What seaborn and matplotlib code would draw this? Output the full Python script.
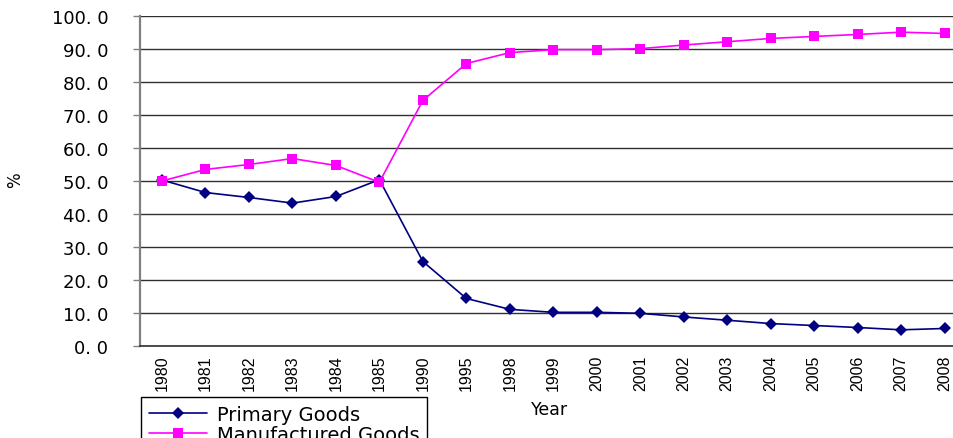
import numpy as np
import pandas as pd
import matplotlib
matplotlib.use("Agg")
import matplotlib.pyplot as plt
import seaborn as sns
from matplotlib.ticker import FixedLocator, FuncFormatter

years = ["1980", "1981", "1982", "1983", "1984", "1985", "1990", "1995", "1998",
         "1999", "2000", "2001", "2002", "2003", "2004", "2005", "2006", "2007", "2008"]
primary = [50.3, 46.5, 45.0, 43.3, 45.3, 50.4, 25.6, 14.4, 11.1,
           10.2, 10.2, 9.9, 8.8, 7.8, 6.8, 6.2, 5.6, 4.9, 5.3]
manufactured = [50.0, 53.5, 55.0, 56.8, 54.7, 49.6, 74.4, 85.6, 88.9,
                89.8, 89.8, 90.1, 91.2, 92.2, 93.2, 93.8, 94.4, 95.1, 94.7]
series_names = ["Primary Goods", "Manufactured Goods"]

sns.set_style("white")
plt.rcParams["font.family"] = ["DejaVu Sans"]
plt.rcParams["text.color"] = "black"
plt.rcParams["xtick.color"] = "black"
plt.rcParams["ytick.color"] = "black"

pos = np.arange(len(years))
df = pd.DataFrame({
    "pos": np.concatenate([pos, pos]),
    "value": primary + manufactured,
    "series": [series_names[0]] * len(years) + [series_names[1]] * len(years),
})

fig = plt.figure(figsize=(9.54, 4.39), dpi=100)
ax = fig.add_axes([0.147, 0.2096, 0.866, 0.7517])

sns.lineplot(
    data=df, x="pos", y="value", hue="series", style="series",
    palette={series_names[0]: "#000080", series_names[1]: "#FF00FF"},
    markers={series_names[0]: "D", series_names[1]: "s"},
    dashes=False, markersize=6.5, linewidth=1.2, markeredgewidth=0,
    sort=False, ax=ax, zorder=3,
)

ax.set_xlim(-0.5, len(years) - 0.5)
ax.set_ylim(0, 100)
ax.set_yticks(np.arange(0, 101, 10))
ax.yaxis.set_major_formatter(FuncFormatter(lambda v, p: f"{v:.1f}".replace(".", ". ")))
ax.grid(axis="y", color="#303030", linewidth=1.0, zorder=0)
ax.set_axisbelow(True)

ax.set_xticks(pos)
ax.set_xticklabels(years, rotation=90, fontsize=11.5, family="Liberation Sans")
ax.xaxis.set_minor_locator(FixedLocator(np.arange(-0.5, len(years), 1.0)))
ax.tick_params(axis="x", which="major", length=0, pad=6)
ax.tick_params(axis="x", which="minor", length=5, width=1, color="#202020", direction="out")
ax.tick_params(axis="y", which="major", length=5, width=1, color="#808080",
               labelcolor="black", direction="out", labelsize=13, pad=18, left=True)

for s in ["top", "right"]:
    ax.spines[s].set_visible(False)
ax.spines["left"].set_color("#808080")
ax.spines["left"].set_linewidth(1.6)
ax.spines["bottom"].set_color("#303030")
ax.spines["bottom"].set_linewidth(1.2)

ax.set_xlabel("")
ax.set_ylabel("")
fig.text(550 / 954, 1 - 410 / 439, "Year", fontsize=12.5, ha="center", va="center")
fig.text(15 / 954, 1 - 180 / 439, "%", fontsize=12, rotation=90, ha="center", va="center")

handles, labels = ax.get_legend_handles_labels()
ax.legend_.remove()
leg = fig.legend(handles, labels, loc="upper left",
                 bbox_to_anchor=(141 / 954, 1 - 398 / 439), bbox_transform=fig.transFigure,
                 fancybox=False, edgecolor="black", framealpha=1, fontsize=14,
                 borderpad=0.4, labelspacing=0.05, handlelength=3.0, handletextpad=0.5,
                 borderaxespad=0)
leg.get_frame().set_linewidth(1.0)

fig.savefig("out.png", dpi=100)
